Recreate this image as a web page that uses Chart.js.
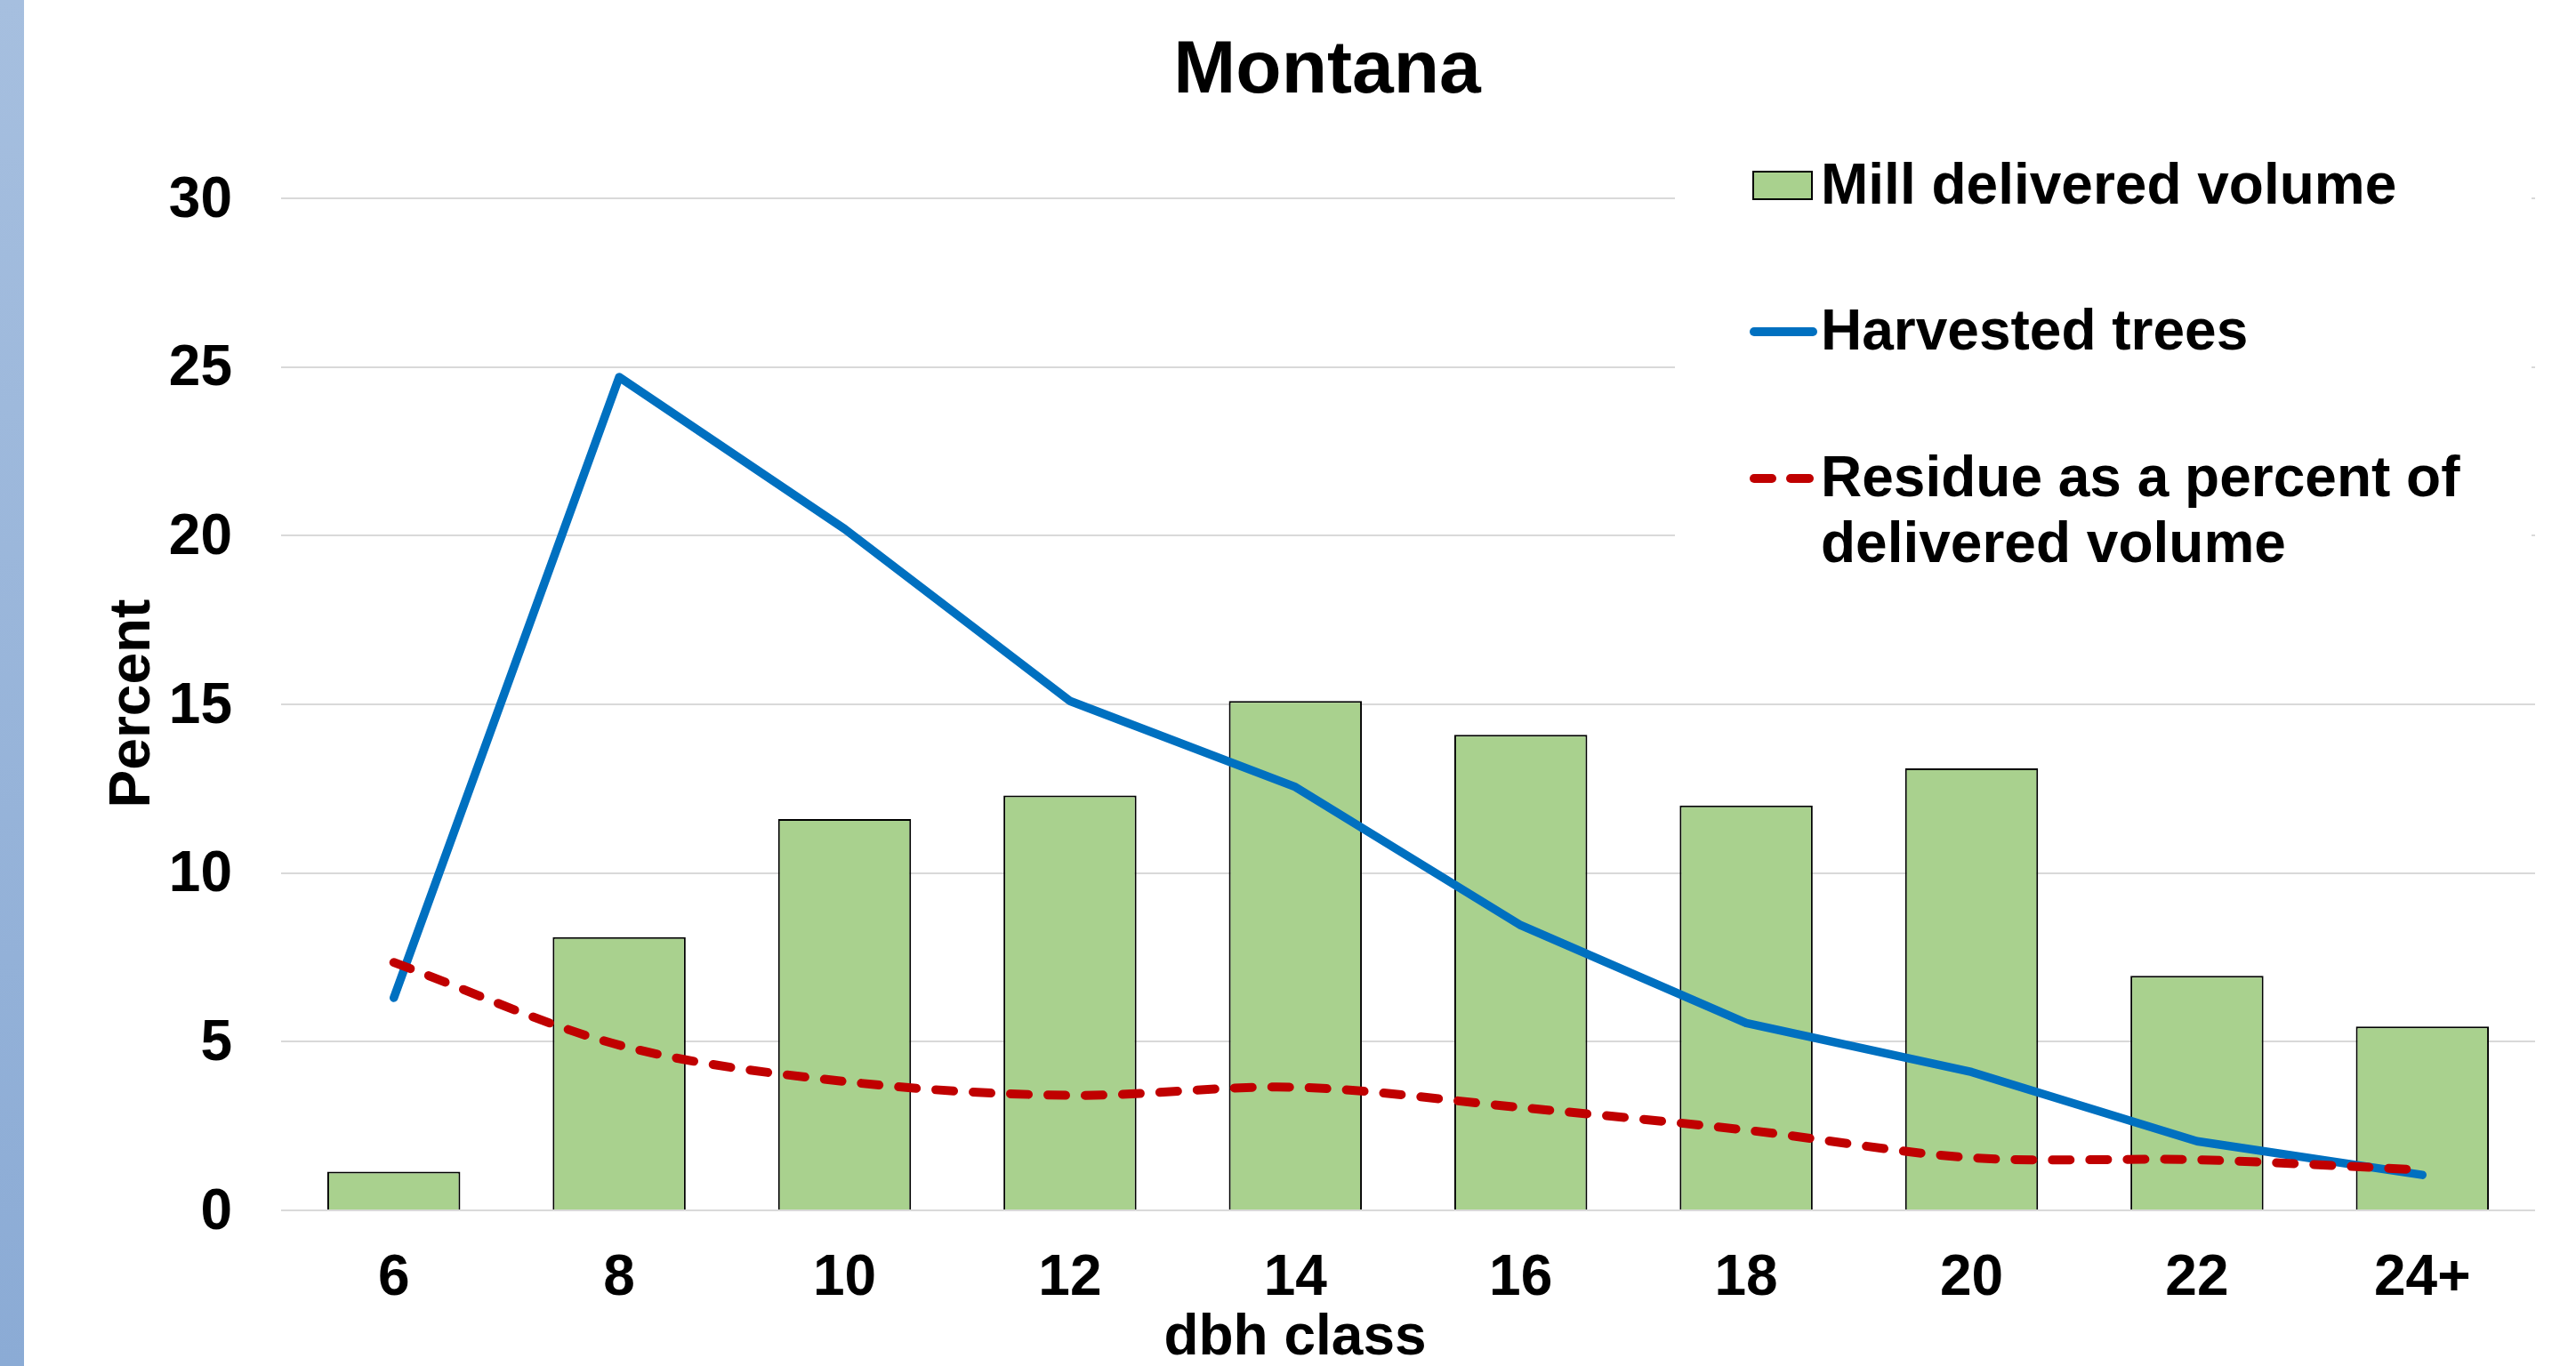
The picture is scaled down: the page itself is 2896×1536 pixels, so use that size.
<!DOCTYPE html>
<html><head><meta charset="utf-8">
<script src="https://cdn.jsdelivr.net/npm/chart.js@4.4.1/dist/chart.umd.min.js"></script>
<style>
html,body{margin:0;padding:0;background:#fff;overflow:hidden;}
#wrap{position:relative;width:2896px;height:1536px;}
#side{position:absolute;left:0;top:0;width:27px;height:1536px;background:linear-gradient(#A6BFDF,#8BABD5);}
canvas{position:absolute;left:0;top:0;}
</style></head><body>
<div id="wrap"><div id="side"></div><canvas id="c" width="2896" height="1536"></canvas></div>
<script>
// ---- data ----
const categories = ['6','8','10','12','14','16','18','20','22','24+'];
const millDelivered = [1.15, 8.1, 11.6, 12.3, 15.1, 14.1, 12.0, 13.1, 6.95, 5.45];
const harvestedTrees = [6.3, 24.7, 20.2, 15.1, 12.55, 8.45, 5.55, 4.1, 2.05, 1.05];
const residuePct = [7.35, 4.9, 3.82, 3.41, 3.65, 3.05, 2.38, 1.56, 1.5, 1.2];
const yMin = 0, yMax = 30, yStep = 5;
const seriesNames = ['Mill delivered volume', 'Harvested trees', ['Residue as a percent of', 'delivered volume']];
const chartTitle = 'Montana';
const xTitle = 'dbh class';
const yTitle = 'Percent';

const FONT = "'Liberation Sans', Arial, sans-serif";
const GREEN = '#A9D18E', BLUE = '#0070C0', RED = '#C00000';

const decor = {
  id: 'decor',
  beforeDatasetsDraw(chart) {
    const ctx = chart.ctx;
    ctx.save();
    ctx.fillStyle = '#fff';
    ctx.fillRect(1883, 150, 2846 - 1883, 520);
    ctx.restore();
  },
  afterDraw(chart) {
    const ctx = chart.ctx;
    ctx.save();
    ctx.fillStyle = '#000';
    ctx.textBaseline = 'alphabetic';
    ctx.textAlign = 'center';
    ctx.font = 'bold 84px ' + FONT;
    ctx.fillText(chartTitle, 1492, 104);
    ctx.font = 'bold 64px ' + FONT;
    ctx.fillText(xTitle, 1456, 1523);
    ctx.save();
    ctx.translate(168, 791);
    ctx.rotate(-Math.PI / 2);
    ctx.fillText(yTitle, 0, 0);
    ctx.restore();

    // legend
    ctx.textAlign = 'left';
    ctx.fillStyle = GREEN;
    ctx.fillRect(1970, 192, 68, 33);
    ctx.strokeStyle = '#000';
    ctx.lineWidth = 2;
    ctx.strokeRect(1971, 193, 66, 31);

    ctx.lineCap = 'round';
    ctx.strokeStyle = BLUE;
    ctx.lineWidth = 10;
    ctx.beginPath(); ctx.moveTo(1972, 373); ctx.lineTo(2038, 373); ctx.stroke();

    ctx.strokeStyle = RED;
    ctx.beginPath(); ctx.moveTo(1972, 538); ctx.lineTo(1992, 538); ctx.stroke();
    ctx.beginPath(); ctx.moveTo(2013, 538); ctx.lineTo(2034, 538); ctx.stroke();

    ctx.fillStyle = '#000';
    ctx.font = 'bold 64px ' + FONT;
    ctx.fillText(seriesNames[0], 2047, 229);
    ctx.fillText(seriesNames[1], 2047, 393);
    ctx.fillText(seriesNames[2][0], 2047, 558);
    ctx.fillText(seriesNames[2][1], 2047, 632);
    ctx.restore();
  }
};

new Chart(document.getElementById('c'), {
  type: 'bar',
  data: {
    labels: categories,
    datasets: [
      {
        type: 'line', label: seriesNames[2].join(' '), data: residuePct,
        borderColor: RED, borderWidth: 10, borderDash: [20, 22], borderCapStyle: 'round',
        borderJoinStyle: 'round', tension: 0.33, pointRadius: 0, fill: false, order: 0
      },
      {
        type: 'line', label: seriesNames[1], data: harvestedTrees,
        borderColor: BLUE, borderWidth: 9.5, borderCapStyle: 'round', borderJoinStyle: 'round',
        tension: 0, pointRadius: 0, fill: false, order: 1
      },
      {
        type: 'bar', label: seriesNames[0], data: millDelivered,
        backgroundColor: GREEN, borderColor: '#000', borderWidth: 2, borderSkipped: 'bottom',
        barPercentage: 0.59, categoryPercentage: 1.0, order: 2
      }
    ]
  },
  options: {
    responsive: false,
    devicePixelRatio: 1,
    animation: false,
    layout: { padding: { top: 223, right: 46, bottom: 0, left: 0 } },
    plugins: { legend: { display: false }, title: { display: false }, tooltip: { enabled: false } },
    scales: {
      x: {
        grid: { display: false, drawTicks: false },
        border: { display: false },
        ticks: { color: '#000', font: { family: FONT, size: 64, weight: 'bold' }, padding: 39, maxRotation: 0, autoSkip: false },
        afterFit(scale) { scale.height = 175; }
      },
      y: {
        min: yMin, max: yMax,
        grid: { color: '#D9D9D9', lineWidth: 2, drawTicks: false },
        border: { display: false },
        ticks: { stepSize: yStep, color: '#000', font: { family: FONT, size: 64, weight: 'bold' }, padding: 55, labelOffset: 3 },
        afterFit(scale) { scale.width = 316; }
      }
    }
  },
  plugins: [decor]
});
</script>
</body></html>
